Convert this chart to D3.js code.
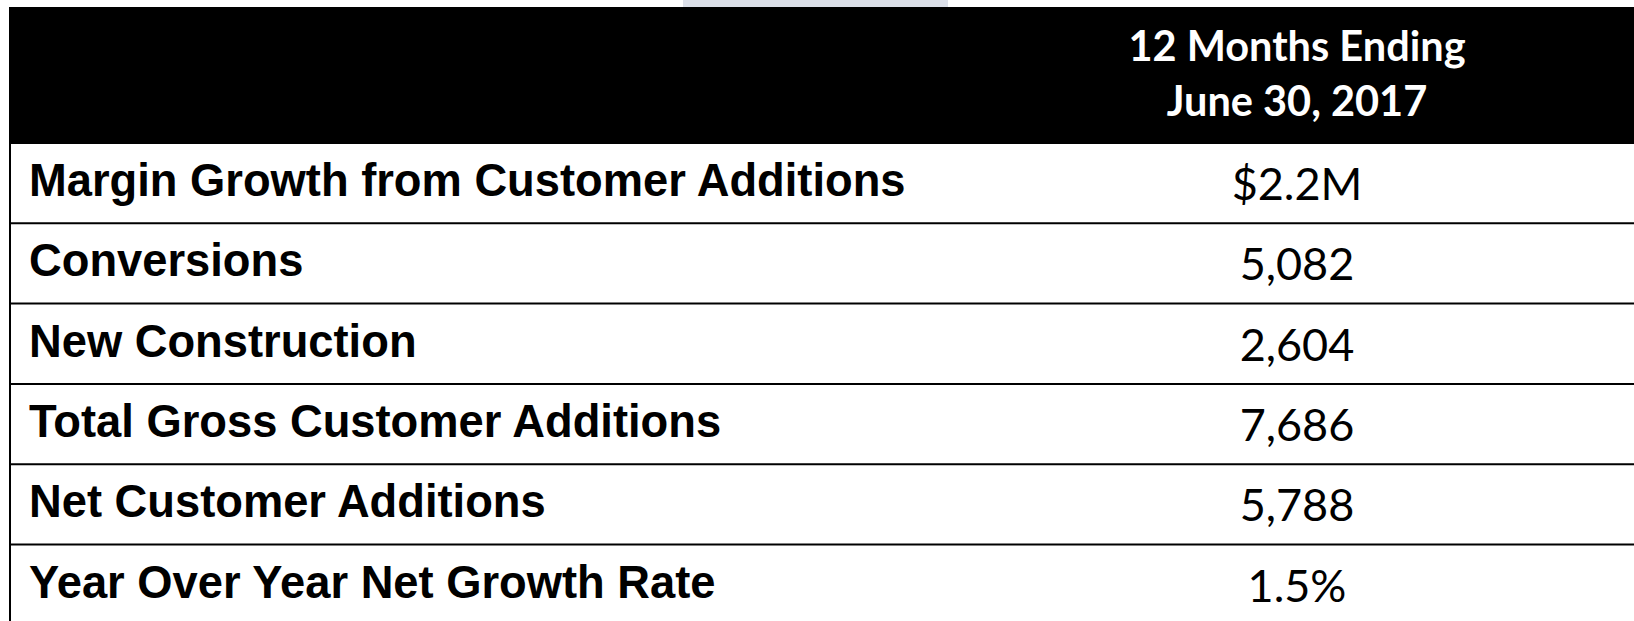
<!DOCTYPE html>
<html><head><meta charset="utf-8">
<script src="https://cdn.jsdelivr.net/npm/d3@7"></script>
<style>
html,body{margin:0;padding:0;background:#fff;overflow:hidden;}
svg{display:block;}
</style></head>
<body>
<script>
const headerLines = ["12 Months Ending", "June 30, 2017"];
const labels = [
  "Margin Growth from Customer Additions",
  "Conversions",
  "New Construction",
  "Total Gross Customer Additions",
  "Net Customer Additions",
  "Year Over Year Net Growth Rate"
];
const values = ["$2.2M", "5,082", "2,604", "7,686", "5,788", "1.5%"];

const W = 1634, H = 621;
const svg = d3.select("body").append("svg").attr("width", W).attr("height", H);

// decorative light strip at top
svg.append("rect").attr("x", 683).attr("y", 0).attr("width", 265).attr("height", 8).attr("fill", "#dce0e9");

const tableLeft = 9, tableRight = W + 5;
const headerTop = 7, headerBottom = 143;
const y = d3.scaleBand().domain(labels).range([headerBottom, headerBottom + 6 * 80.3]).paddingInner(0).paddingOuter(0);
const x = d3.scalePoint().domain(["label", "value"]).range([29, 1297]);

// header
svg.append("rect").attr("x", tableLeft).attr("y", headerTop)
  .attr("width", tableRight - tableLeft).attr("height", headerBottom - headerTop).attr("fill", "#000");

const hy = d3.scalePoint().domain(headerLines).range([61, 116]);
svg.selectAll("text.hdr").data(headerLines).enter().append("text")
  .attr("class", "hdr")
  .attr("x", x("value")).attr("y", d => hy(d))
  .attr("text-anchor", "middle")
  .attr("fill", "#fff")
  .attr("font-family", "Lato, 'Open Sans', sans-serif")
  .attr("font-weight", 700)
  .attr("font-size", 41.5)
  .text(d => d);

// rows
const rows = svg.selectAll("g.row").data(labels).enter().append("g").attr("class", "row");

rows.append("text")
  .attr("x", x("label"))
  .attr("y", d => y(d) + y.bandwidth() / 2 + 13)
  .attr("fill", "#000")
  .attr("font-family", "'Liberation Sans', Arial, sans-serif")
  .attr("font-weight", 700)
  .attr("font-size", 45.3)
  .text(d => d);

rows.append("text")
  .attr("x", x("value"))
  .attr("y", d => y(d) + y.bandwidth() / 2 + 17)
  .attr("text-anchor", "middle")
  .attr("fill", "#000")
  .attr("font-family", "Lato, 'Open Sans', sans-serif")
  .attr("font-weight", 400)
  .attr("font-size", 45)
  .text((d, i) => values[i]);

// horizontal row lines
const lineYs = labels.map(d => y(d));
svg.selectAll("line.h").data(lineYs).enter().append("line")
  .attr("class", "h")
  .attr("x1", tableLeft).attr("x2", tableRight)
  .attr("y1", d => d).attr("y2", d => d)
  .attr("stroke", "#000").attr("stroke-width", 2);

// left border
svg.append("line").attr("x1", 10).attr("x2", 10).attr("y1", headerTop).attr("y2", H + 5)
  .attr("stroke", "#000").attr("stroke-width", 2);
</script>
</body></html>
